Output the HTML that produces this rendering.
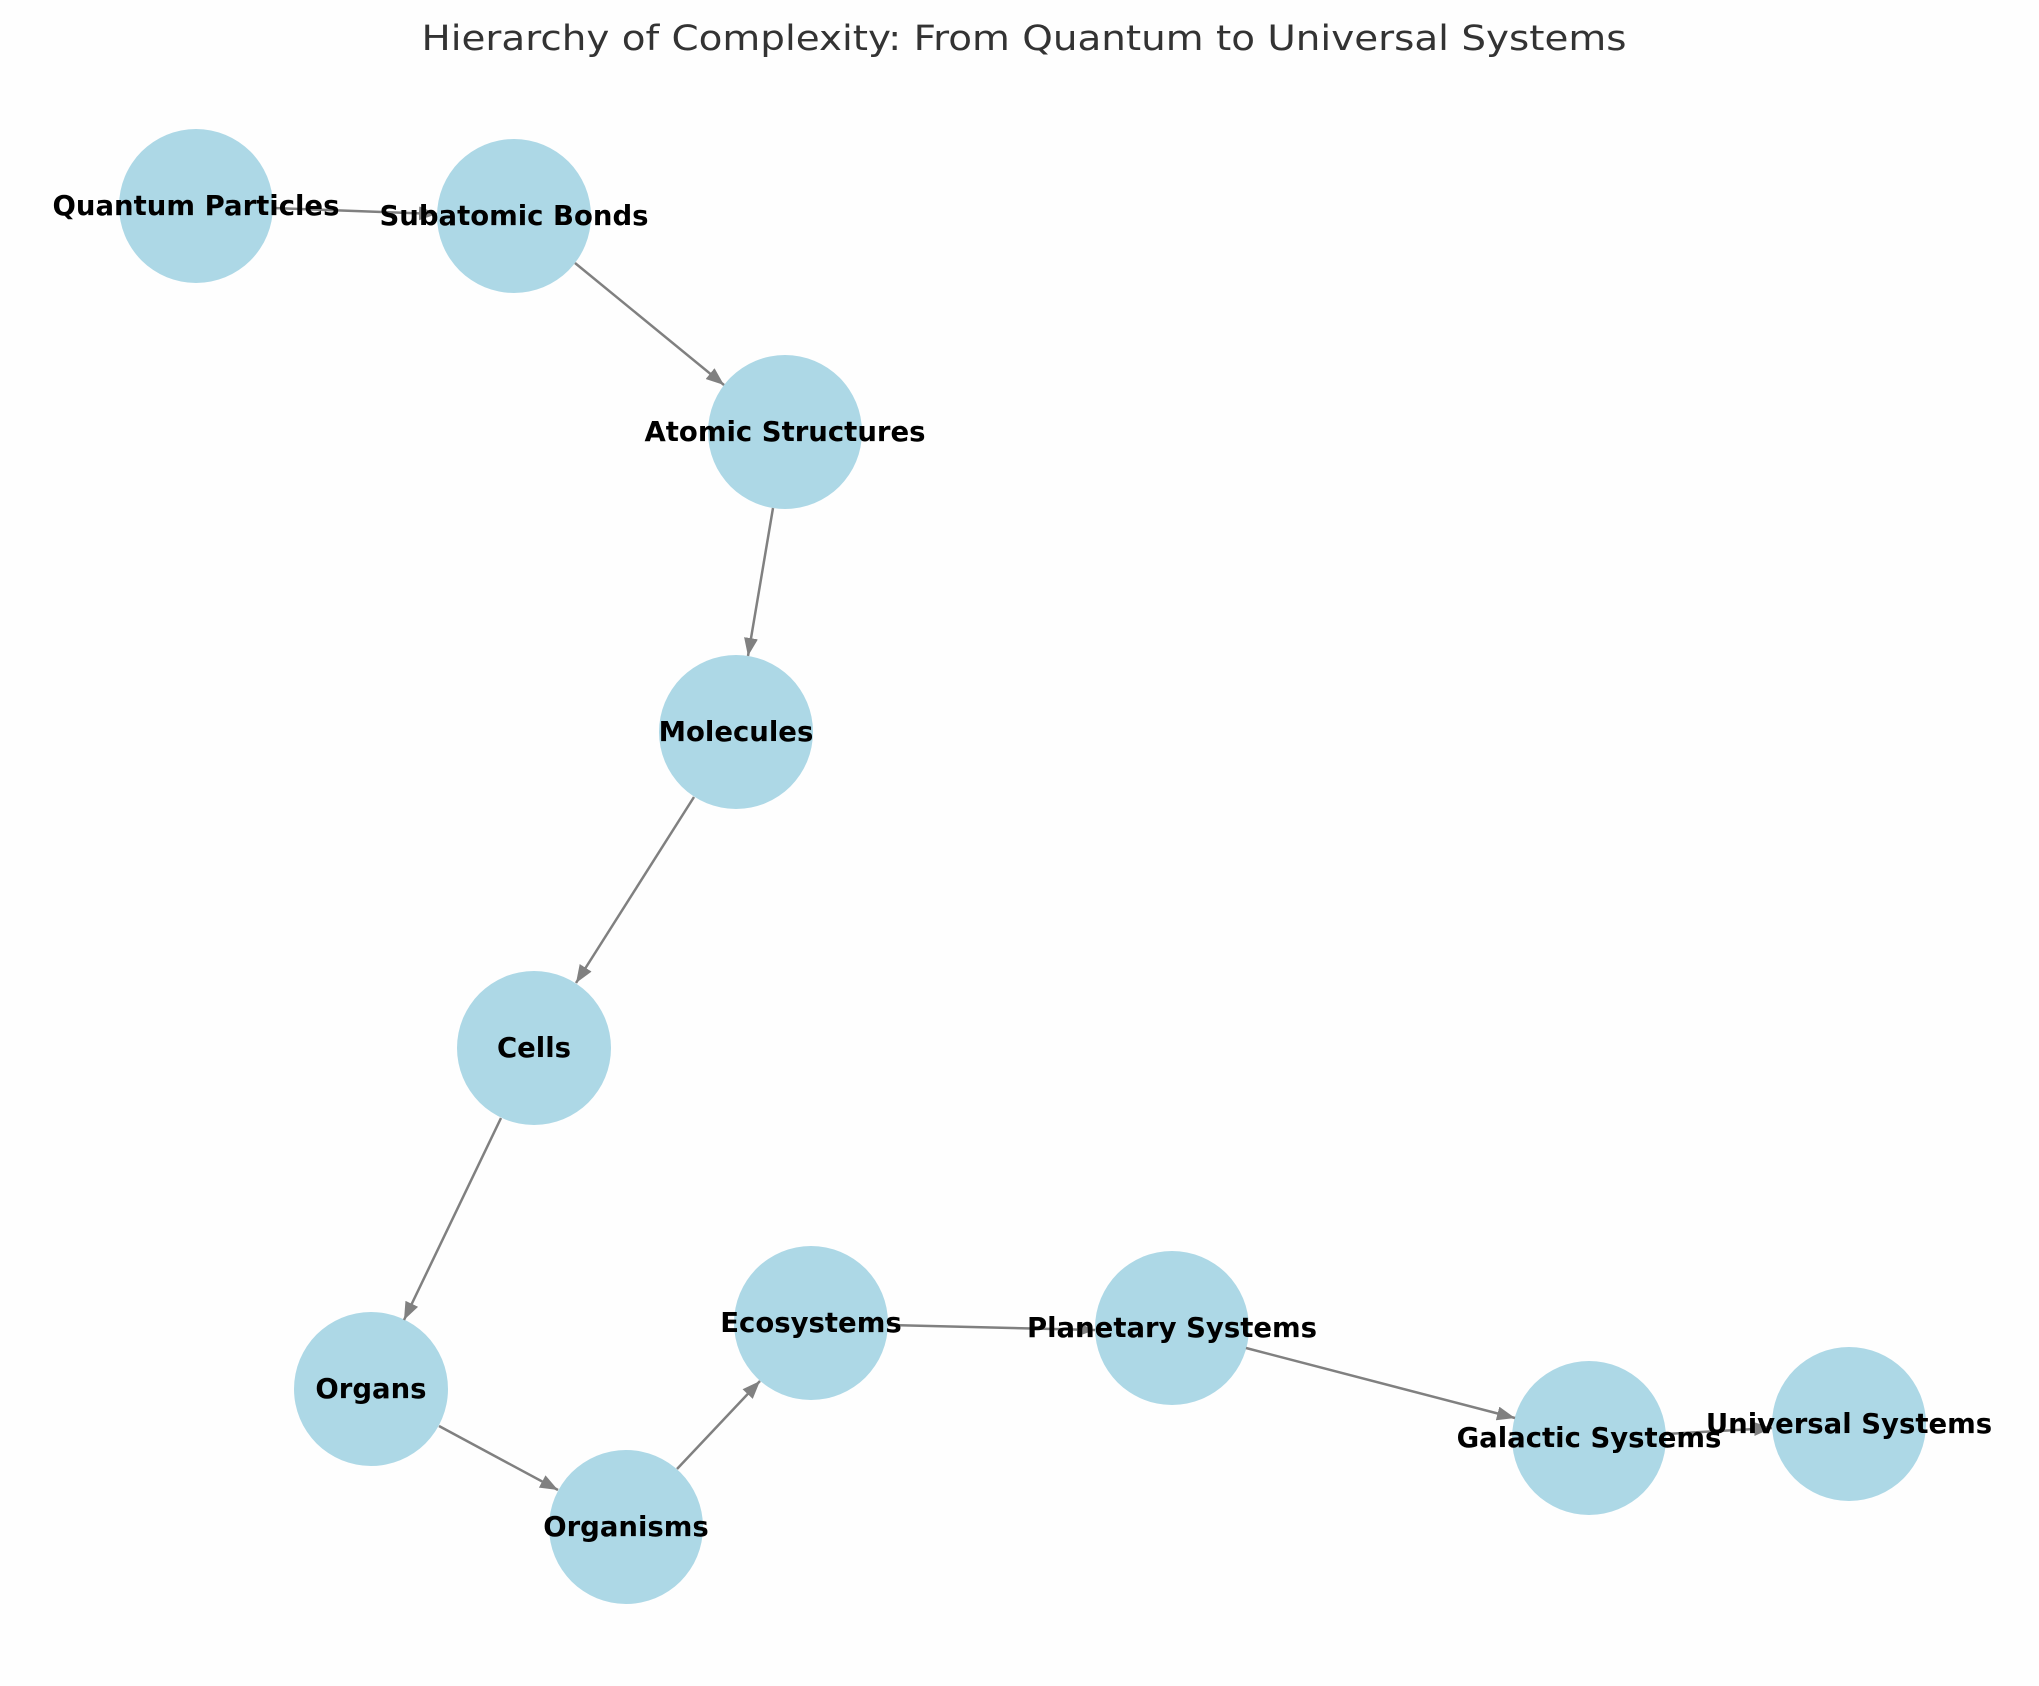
<!DOCTYPE html>
<html><head><meta charset="utf-8"><style>
html,body{margin:0;padding:0;background:#fefefe;}
svg{display:block;}
text.l{font-family:"DejaVu Sans","Liberation Sans",sans-serif;font-weight:bold;font-size:27.5px;fill:#000;text-anchor:middle;dominant-baseline:central;}
</style></head><body>
<svg width="2039" height="1686" viewBox="0 0 2039 1686" xmlns="http://www.w3.org/2000/svg">
<defs>
<marker id="a" markerUnits="userSpaceOnUse" markerWidth="20" markerHeight="14" refX="18" refY="7" orient="auto">
<path d="M0,0 L18,7 L0,14 Z" fill="#808080"/>
</marker>
</defs>
<rect width="2039" height="1686" fill="#fefefe"/>
<text x="1024" y="50" font-family="DejaVu Sans, Liberation Sans, sans-serif" font-size="35" fill="#333" text-anchor="middle" textLength="1205" lengthAdjust="spacingAndGlyphs">Hierarchy of Complexity: From Quantum to Universal Systems</text>
<g fill="#add8e6">
<circle cx="196" cy="206" r="77"/>
<circle cx="514" cy="216" r="77"/>
<circle cx="785" cy="432" r="77"/>
<circle cx="736" cy="732" r="77"/>
<circle cx="534" cy="1048" r="77"/>
<circle cx="371" cy="1389" r="77"/>
<circle cx="626" cy="1527" r="77"/>
<circle cx="811" cy="1323" r="77"/>
<circle cx="1172" cy="1328" r="77"/>
<circle cx="1589" cy="1438" r="77"/>
<circle cx="1849" cy="1424" r="77"/>
</g>
<g stroke="#808080" stroke-width="2.5" fill="none" marker-end="url(#a)">
<line x1="273" y1="208" x2="437" y2="214"/>
<line x1="575" y1="263" x2="724" y2="385"/>
<line x1="773" y1="508" x2="748" y2="656"/>
<line x1="694" y1="797" x2="576" y2="983"/>
<line x1="501" y1="1118" x2="404" y2="1320"/>
<line x1="439" y1="1426" x2="558" y2="1490"/>
<line x1="677" y1="1469" x2="760" y2="1381"/>
<line x1="888" y1="1325" x2="1095" y2="1330"/>
<line x1="1246" y1="1348" x2="1515" y2="1418"/>
<line x1="1666" y1="1434" x2="1772" y2="1428"/>
</g>
<text class="l" x="196" y="206">Quantum Particles</text>
<text class="l" x="514" y="216">Subatomic Bonds</text>
<text class="l" x="785" y="432">Atomic Structures</text>
<text class="l" x="736" y="732">Molecules</text>
<text class="l" x="534" y="1048">Cells</text>
<text class="l" x="371" y="1389">Organs</text>
<text class="l" x="626" y="1527">Organisms</text>
<text class="l" x="811" y="1323">Ecosystems</text>
<text class="l" x="1172" y="1328">Planetary Systems</text>
<text class="l" x="1589" y="1438">Galactic Systems</text>
<text class="l" x="1849" y="1424">Universal Systems</text>
</svg>
</body></html>
